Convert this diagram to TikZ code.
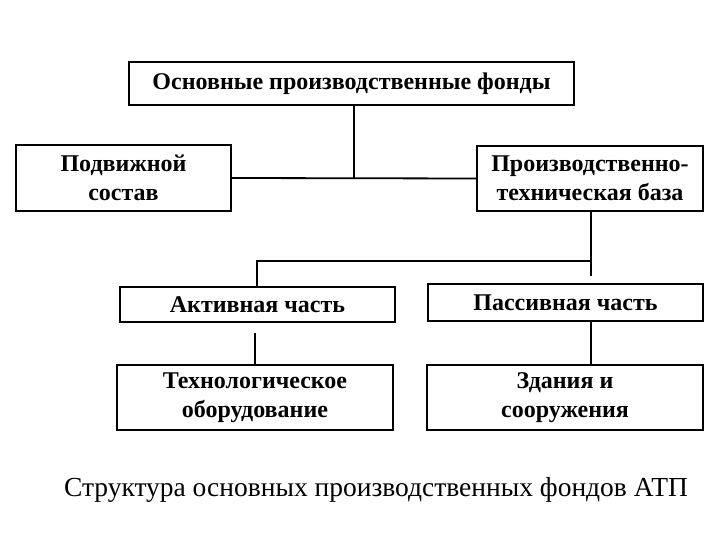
\documentclass[tikz,border=0pt]{standalone}
\usepackage{fontspec}
\setmainfont{Liberation Serif}
\begin{document}
\begin{tikzpicture}[x=1pt,y=-1pt,
  box/.style={draw, line width=1.8pt, inner sep=0pt, align=center,
    font=\bfseries\fontsize{24}{29}\selectfont},
  conn/.style={line width=1.8pt}]
\useasboundingbox (0,0) rectangle (720,540);
\node[box, minimum width=445, minimum height=43] (osn) at (351.5,83.5) {Основные производственные фонды};
\node[box, minimum width=215, minimum height=66] (podv) at (123.5,178) {Подвижной\\состав};
\node[box, minimum width=226, minimum height=65] (proizv) at (590,178.5) {Производственно-\\техническая база};
\node[box, minimum width=275, minimum height=35] (akt) at (257.5,304.5) {Активная часть};
\node[box, minimum width=275, minimum height=37] (pass) at (565.5,302.5) {Пассивная часть};
\node[box, minimum width=276, minimum height=65] (tech) at (255,397.5) {Технологическое\\оборудование};
\node[box, minimum width=276, minimum height=65] (zd) at (565,397.5) {Здания и\\сооружения};
\node[font=\fontsize{27.5}{32}\selectfont] (cap) at (376,490) {Структура основных производственных фондов АТП};
\coordinate (j1) at (354,178);
\coordinate (j2) at (591,261);
\coordinate (j3) at (591,276);
\coordinate (j4) at (257,261);
\coordinate (j5) at (255,333);
\draw[conn] (osn.south -| j1) -- (j1);
\draw[conn] (podv.east) -- (proizv.west);
\draw[conn] (proizv.south -| j2) -- (j3);
\draw[conn] (j2) -- (j4) -- (akt.north -| j4);
\draw[conn] (j5) -- (tech.north -| j5);
\draw[conn] (pass.south -| j2) -- (zd.north -| j2);
\end{tikzpicture}
\end{document}
